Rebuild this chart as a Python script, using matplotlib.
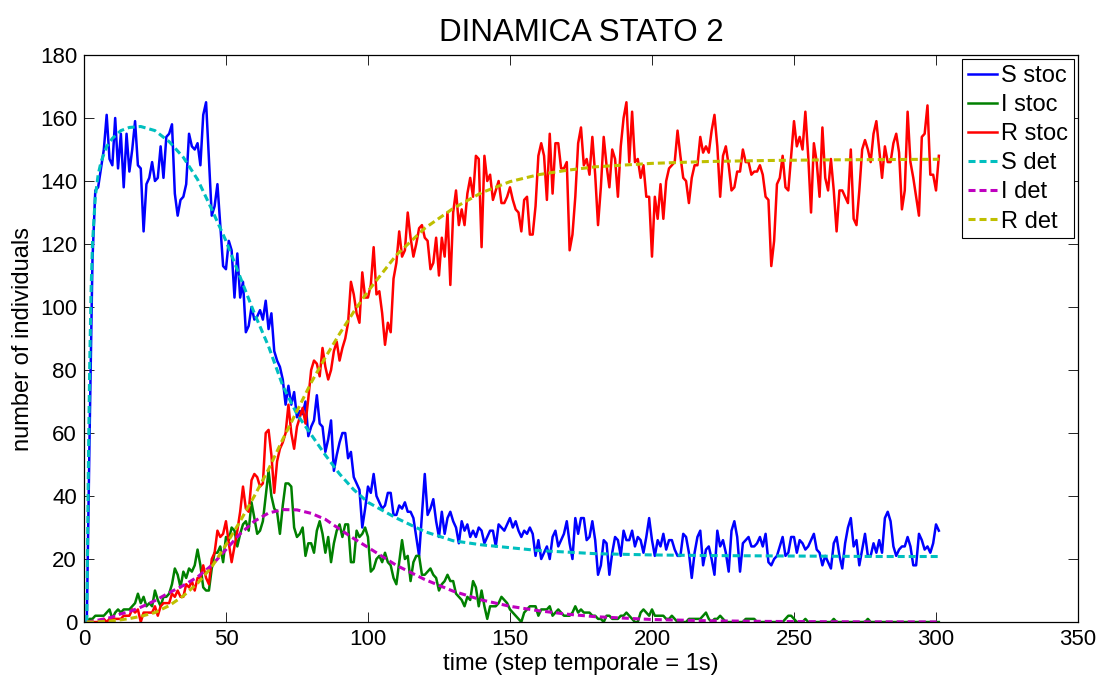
import numpy as np
import matplotlib
matplotlib.use("Agg")
import matplotlib.pyplot as plt

plt.rcParams['font.family'] = ['Liberation Sans', 'DejaVu Sans']

# stochastic simulation, one value per time step (t = 1..301)
S_stoc = [0, 60, 115, 137, 138, 144, 150, 161, 147, 145,
          160, 144, 155, 138, 155, 143, 150, 159, 145, 144,
          124, 139, 141, 146, 140, 141, 151, 141, 154, 155,
          158, 136, 129, 134, 135, 139, 155, 151, 150, 152,
          145, 161, 165, 147, 129, 132, 139, 126, 113, 112,
          121, 118, 103, 117, 103, 108, 92, 94, 100, 96,
          97, 99, 96, 102, 93, 98, 86, 83, 81, 77,
          69, 75, 69, 73, 65, 67, 66, 70, 59, 62,
          64, 72, 63, 62, 54, 58, 64, 48, 53, 57,
          60, 60, 52, 54, 46, 44, 42, 30, 36, 43,
          41, 47, 40, 38, 36, 37, 41, 41, 34, 34,
          37, 36, 38, 35, 35, 33, 27, 21, 34, 47,
          34, 36, 39, 32, 27, 35, 28, 33, 35, 32,
          30, 25, 32, 29, 31, 27, 29, 27, 30, 29,
          25, 27, 29, 29, 24, 31, 30, 29, 31, 33,
          30, 32, 29, 27, 29, 28, 30, 28, 21, 26,
          20, 22, 24, 20, 27, 29, 24, 26, 28, 32,
          25, 20, 33, 28, 33, 33, 26, 27, 32, 26,
          15, 18, 26, 25, 15, 22, 27, 26, 21, 29,
          26, 26, 29, 24, 27, 26, 22, 27, 33, 26,
          21, 26, 24, 28, 23, 26, 26, 23, 21, 21,
          28, 27, 22, 14, 22, 27, 29, 18, 23, 24,
          20, 15, 29, 24, 26, 22, 16, 29, 32, 27,
          16, 25, 26, 27, 24, 24, 25, 27, 24, 28,
          19, 18, 20, 21, 24, 27, 21, 22, 27, 27,
          22, 26, 25, 23, 24, 26, 28, 23, 22, 18,
          21, 19, 17, 25, 27, 21, 17, 25, 30, 33,
          24, 26, 18, 23, 28, 21, 21, 25, 22, 26,
          22, 33, 35, 32, 24, 21, 23, 24, 24, 27,
          24, 18, 18, 28, 26, 23, 24, 22, 25, 31, 29]

I_stoc = [0, 1, 1, 2, 2, 2, 2, 3, 4, 1,
          3, 4, 3, 4, 4, 4, 5, 6, 9, 6,
          8, 5, 6, 5, 10, 7, 5, 8, 8, 9,
          12, 17, 15, 11, 16, 14, 17, 16, 18, 23,
          18, 11, 10, 10, 17, 22, 22, 24, 19, 27,
          26, 30, 29, 24, 28, 31, 32, 29, 38, 33,
          28, 29, 32, 40, 48, 40, 36, 35, 28, 37,
          44, 44, 43, 30, 27, 28, 30, 21, 25, 25,
          22, 29, 32, 28, 22, 27, 19, 25, 29, 31,
          27, 31, 31, 19, 19, 29, 27, 28, 30, 27,
          16, 17, 20, 21, 19, 22, 19, 18, 14, 12,
          19, 26, 20, 21, 13, 19, 21, 21, 15, 15,
          16, 17, 15, 14, 10, 12, 13, 15, 13, 13,
          9, 8, 7, 5, 8, 7, 13, 11, 5, 10,
          5, 1, 5, 5, 5, 6, 8, 7, 6, 4,
          3, 2, 1, 0, 3, 4, 5, 5, 5, 2,
          4, 4, 4, 5, 2, 3, 4, 3, 2, 2,
          2, 3, 5, 3, 4, 3, 3, 3, 2, 2,
          1, 1, 0, 2, 2, 1, 1, 1, 2, 2,
          3, 2, 1, 0, 0, 3, 4, 3, 2, 4,
          2, 2, 2, 2, 1, 1, 2, 1, 0, 0,
          0, 0, 1, 1, 1, 1, 1, 2, 3, 1,
          0, 1, 1, 2, 1, 0, 0, 0, 0, 0,
          0, 0, 1, 1, 1, 1, 0, 0, 0, 0,
          0, 0, 0, 0, 0, 0, 1, 2, 2, 1,
          0, 0, 0, 1, 0, 0, 0, 0, 0, 0,
          0, 0, 0, 1, 0, 0, 0, 0, 0, 0,
          0, 0, 0, 0, 0, 1, 0, 0, 0, 0,
          0, 0, 0, 0, 0, 0, 0, 0, 0, 0,
          0, 0, 0, 0, 0, 0, 0, 0, 0, 0, 0]

R_stoc = [0, 0, 0, 0, 0, 0, 1, 0, 1, 1,
          1, 1, 1, 2, 2, 2, 4, 3, 4, 0,
          3, 3, 3, 3, 5, 2, 5, 6, 6, 6,
          9, 8, 10, 8, 8, 12, 11, 13, 10, 14,
          14, 18, 14, 12, 20, 22, 29, 27, 28, 32,
          25, 19, 24, 29, 35, 43, 36, 35, 45, 47,
          46, 43, 44, 60, 61, 53, 41, 51, 55, 57,
          60, 69, 60, 55, 62, 65, 68, 63, 71, 80,
          83, 82, 78, 87, 81, 77, 80, 86, 89, 83,
          87, 90, 95, 108, 104, 98, 95, 111, 103, 103,
          107, 119, 104, 105, 98, 88, 95, 92, 109, 114,
          124, 116, 118, 130, 122, 116, 120, 125, 126, 122,
          121, 112, 114, 122, 110, 122, 116, 130, 107, 130,
          137, 126, 131, 126, 136, 141, 135, 148, 147, 119,
          148, 140, 142, 134, 137, 140, 133, 133, 135, 138,
          134, 131, 130, 124, 134, 135, 123, 123, 132, 148,
          152, 148, 134, 155, 136, 152, 152, 144, 144, 146,
          118, 123, 135, 152, 157, 145, 147, 142, 154, 142,
          126, 138, 154, 145, 138, 150, 147, 135, 151, 160,
          165, 146, 162, 146, 147, 141, 145, 135, 135, 116,
          135, 128, 139, 128, 140, 144, 145, 146, 156, 148,
          141, 140, 133, 141, 145, 145, 154, 149, 151, 149,
          156, 161, 151, 135, 148, 151, 145, 137, 138, 143,
          143, 150, 146, 146, 142, 143, 143, 145, 142, 135,
          134, 113, 121, 139, 141, 148, 138, 137, 148, 159,
          151, 154, 150, 162, 148, 130, 152, 146, 135, 157,
          141, 137, 147, 137, 124, 137, 137, 135, 133, 150,
          128, 126, 137, 150, 153, 150, 146, 155, 159, 150,
          141, 151, 146, 146, 152, 155, 149, 131, 137, 162,
          146, 141, 135, 129, 154, 155, 164, 142, 142, 137, 148]

# deterministic model, read at these times
t_det = [1, 1.5, 2, 2.5, 3, 4, 5, 6, 8, 10, 13, 16, 20, 25, 30, 35, 40, 45,
         50, 55, 60, 65, 70, 75, 80, 85, 90, 95, 100, 110, 120, 130, 140,
         150, 160, 170, 180, 200, 220, 240, 260, 280, 301]
S_det = [0, 45, 80, 105, 120, 135, 142, 146, 151, 153.5, 156, 157, 157.3,
         156, 152.5, 147.5, 140.5, 131, 121, 109.5, 98, 87.5, 75, 66, 59.5,
         53, 47, 42, 38, 33, 28.7, 25.8, 24.5, 23.6, 22.7, 22.2, 21.7, 21.3,
         21.1, 21, 20.9, 20.8, 20.8]
I_det = [0, 0, 0.1, 0.2, 0.3, 0.4, 0.6, 0.8, 1.1, 1.6, 2.6, 3.3, 4.7, 6.8,
         9.3, 11.6, 14.3, 18, 23, 28, 32, 34.6, 35.7, 35.6, 34.5, 32.6, 29.5,
         26.5, 23.7, 18, 13.5, 9.8, 7, 5, 3.6, 2.5, 1.7, 0.8, 0.4, 0.2, 0.1,
         0.05, 0.03]
R_det = [0, 0, 0, 0, 0, 0, 0.1, 0.1, 0.2, 0.4, 0.7, 1.1, 1.8, 3.0, 5.2, 8.3,
         12.3, 17.5, 24.5, 32, 40, 48.5, 58, 67, 76, 84, 91.5, 98.5, 105,
         116.5, 125, 131.3, 136.3, 139.8, 142, 143.4, 144.5, 145.6, 146.2,
         146.5, 146.7, 146.8, 146.9]

fig = plt.figure(figsize=(11.06, 6.79), dpi=100)
ax = fig.add_axes([0.0759, 0.0839, 0.8988, 0.8351])

lw = 1.8
ax.plot(np.arange(1, len(S_stoc) + 1), S_stoc, color=(0, 0, 1), lw=lw, label='S stoc')
ax.plot(np.arange(1, len(I_stoc) + 1), I_stoc, color=(0, 0.5, 0), lw=lw, label='I stoc')
ax.plot(np.arange(1, len(R_stoc) + 1), R_stoc, color=(1, 0, 0), lw=lw, label='R stoc')

dash = (2.3, 1.3)
ax.plot(t_det, S_det, color=(0, 0.75, 0.75), lw=2.2, dashes=dash, label='S det')
ax.plot(t_det, I_det, color=(0.75, 0, 0.75), lw=2.2, dashes=dash, label='I det')
ax.plot(t_det, R_det, color=(0.75, 0.75, 0), lw=2.2, dashes=dash, label='R det')

ax.set_xlim(0, 350)
ax.set_ylim(0, 180)
ax.set_xticks(range(0, 351, 50))
ax.set_yticks(range(0, 181, 20))
ax.tick_params(direction='in', length=7, width=0.6, top=True, right=True,
               labelsize=16, pad=5)
for sp in ax.spines.values():
    sp.set_linewidth(0.9)

ax.set_title('DINAMICA STATO 2', fontsize=22.5, pad=10)
ax.set_xlabel('time (step temporale = 1s)', fontsize=17, labelpad=2)
ax.set_ylabel('number of individuals', fontsize=17, labelpad=4)

leg = ax.legend(loc='upper right', fontsize=17, fancybox=False, edgecolor='black',
                framealpha=1, handlelength=1.25, handletextpad=0.15,
                labelspacing=0.3, borderpad=0.25, borderaxespad=0.18)
leg.get_frame().set_linewidth(0.8)

fig.savefig('out.png', dpi=100, facecolor='white')
